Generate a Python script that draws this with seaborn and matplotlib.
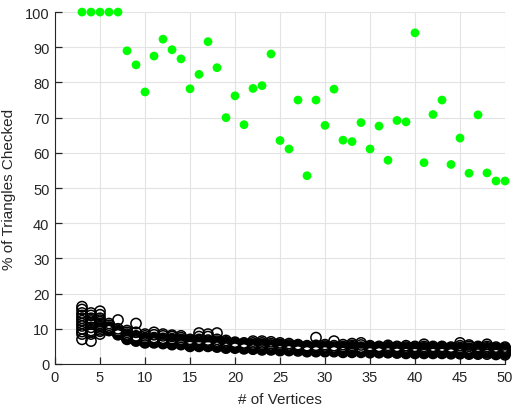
import numpy as np
import pandas as pd
import seaborn as sns
import matplotlib.pyplot as plt

# --- data ---
vertices = list(range(3, 51))

# green: percentage checked by the baseline (one value per vertex count)
baseline_pct = [100, 100, 100, 100, 100, 89.0, 85.0, 77.3, 87.5, 92.3,
                89.3, 86.7, 78.2, 82.3, 91.6, 84.2, 70.0, 76.2, 68.0, 78.3,
                79.1, 88.1, 63.5, 61.1, 75.0, 53.5, 75.0, 67.8, 78.1, 63.6,
                63.2, 68.6, 61.1, 67.6, 57.9, 69.2, 68.8, 94.1, 57.2, 70.9,
                75.0, 56.7, 64.2, 54.2, 70.8, 54.3, 52.0, 52.0]

# black: individual runs (hollow circles)
run_a = [16.3, 14.5, 15.0, 11.5, 12.5, 9.5, 11.5, 8.5, 9.0, 8.5, 8.2, 8.0, 7.0, 8.8, 8.5, 8.8,
         6.7, 6.2, 6.0, 6.5, 6.5, 6.3, 6.0, 5.8, 5.5, 5.2, 7.5, 5.5, 6.5, 5.5, 5.8, 6.0,
         5.2, 5.0, 5.3, 5.0, 5.2, 5.0, 5.6, 5.0, 5.0, 4.8, 6.0, 5.4, 5.0, 5.6, 4.8, 4.8]
run_b = [15.5, 13.8, 14.0, 11.0, 10.0, 9.0, 9.0, 8.0, 8.3, 8.0, 7.8, 7.5, 6.8, 7.8, 7.8, 7.0,
         6.3, 6.0, 5.7, 6.0, 6.0, 5.8, 5.6, 5.4, 5.2, 5.0, 5.3, 5.1, 5.2, 5.0, 5.3, 5.4,
         4.9, 4.8, 4.9, 4.8, 4.8, 4.8, 5.0, 4.7, 4.7, 4.5, 5.2, 5.0, 4.7, 5.0, 4.5, 4.5]
run_c = [14.5, 13.0, 13.0, 10.5, 9.5, 8.5, 8.0, 7.5, 7.5, 7.3, 7.2, 7.0, 6.5, 7.0, 6.8, 6.5,
         6.0, 5.7, 5.4, 5.6, 5.6, 5.4, 5.3, 5.1, 5.0, 4.8, 4.9, 4.8, 4.8, 4.7, 4.9, 4.8,
         4.6, 4.5, 4.6, 4.5, 4.5, 4.5, 4.6, 4.4, 4.4, 4.3, 4.7, 4.5, 4.4, 4.6, 4.3, 4.2]
run_d = [13.0, 12.2, 12.0, 10.0, 9.0, 8.0, 7.5, 7.0, 7.0, 6.8, 6.8, 6.6, 6.2, 6.5, 6.2, 6.0,
         5.7, 5.4, 5.2, 5.3, 5.2, 5.0, 5.0, 4.8, 4.7, 4.6, 4.6, 4.5, 4.5, 4.4, 4.5, 4.4,
         4.3, 4.2, 4.3, 4.2, 4.2, 4.1, 4.2, 4.1, 4.0, 4.0, 4.2, 4.1, 4.0, 4.1, 4.0, 3.9]
run_e = [11.5, 11.3, 11.0, 10.0, 8.8, 7.8, 7.2, 6.8, 6.7, 6.5, 6.4, 6.2, 6.0, 6.0, 5.8, 5.7,
         5.3, 5.1, 5.0, 5.0, 4.9, 4.8, 4.7, 4.5, 4.4, 4.3, 4.3, 4.2, 4.2, 4.1, 4.2, 4.1,
         4.0, 4.0, 4.0, 3.9, 3.9, 3.9, 3.9, 3.8, 3.8, 3.7, 3.9, 3.8, 3.7, 3.8, 3.7, 3.6]
run_f = [10.0, 9.5, 10.2, 9.8, 8.6, 7.5, 7.0, 6.5, 6.4, 6.2, 6.0, 6.0, 5.7, 5.6, 5.5, 5.4,
         5.0, 4.9, 4.8, 4.7, 4.6, 4.5, 4.4, 4.3, 4.2, 4.1, 4.0, 4.0, 3.9, 3.9, 3.9, 3.8,
         3.7, 3.7, 3.7, 3.6, 3.6, 3.6, 3.6, 3.5, 3.5, 3.4, 3.5, 3.5, 3.4, 3.5, 3.4, 3.3]
run_g = [8.5, 8.5, 9.3, 9.6, 8.5, 7.2, 6.8, 6.2, 6.2, 6.0, 5.7, 5.7, 5.3, 5.3, 5.2, 5.0,
         4.8, 4.7, 4.5, 4.4, 4.3, 4.2, 4.1, 4.0, 4.0, 3.8, 3.8, 3.7, 3.7, 3.6, 3.6, 3.6,
         3.5, 3.4, 3.4, 3.4, 3.3, 3.3, 3.3, 3.3, 3.2, 3.2, 3.2, 3.1, 3.1, 3.2, 3.0, 3.0]
run_h = [7.0, 6.5, 8.5, 9.5, 8.3, 7.0, 6.5, 6.0, 6.0, 5.8, 5.5, 5.5, 5.0, 5.0, 5.0, 4.8,
         4.5, 4.5, 4.3, 4.2, 4.0, 4.0, 3.8, 3.8, 3.7, 3.5, 3.5, 3.5, 3.5, 3.3, 3.3, 3.3,
         3.2, 3.2, 3.2, 3.1, 3.0, 3.0, 3.0, 3.0, 3.0, 2.9, 2.9, 2.8, 2.8, 2.8, 2.7, 2.6]
run_i = [13.8, 12.6, 12.5, 10.3, 9.2, 8.2, 7.8, 7.2, 7.2, 7.0, 7.0, 6.8, 6.3, 6.7, 6.5, 6.2,
         5.8, 5.6, 5.3, 5.4, 5.4, 5.2, 5.1, 5.0, 4.8, 4.7, 4.7, 4.6, 4.6, 4.5, 4.7, 4.6,
         4.4, 4.4, 4.4, 4.3, 4.3, 4.3, 4.4, 4.2, 4.2, 4.1, 4.4, 4.3, 4.2, 4.3, 4.1, 4.0]
run_j = [12.3, 11.7, 11.5, 10.0, 8.9, 7.9, 7.3, 6.9, 6.8, 6.6, 6.6, 6.4, 6.1, 6.2, 6.0, 5.8,
         5.5, 5.2, 5.1, 5.1, 5.0, 4.9, 4.8, 4.6, 4.5, 4.4, 4.4, 4.3, 4.3, 4.2, 4.3, 4.2,
         4.1, 4.1, 4.1, 4.0, 4.0, 4.0, 4.0, 3.9, 3.9, 3.8, 4.0, 3.9, 3.8, 3.9, 3.8, 3.7]
run_k = [10.8, 10.4, 10.6, 9.9, 8.7, 7.6, 7.1, 6.6, 6.5, 6.3, 6.2, 6.1, 5.8, 5.8, 5.6, 5.5,
         5.1, 5.0, 4.9, 4.8, 4.7, 4.6, 4.5, 4.4, 4.3, 4.2, 4.1, 4.1, 4.0, 4.0, 4.0, 3.9,
         3.8, 3.8, 3.8, 3.7, 3.7, 3.7, 3.7, 3.6, 3.6, 3.5, 3.7, 3.6, 3.5, 3.6, 3.5, 3.4]
run_l = [9.2, 9.0, 9.7, 9.7, 8.5, 7.3, 6.9, 6.3, 6.3, 6.1, 5.8, 5.8, 5.5, 5.4, 5.3, 5.2,
         4.9, 4.8, 4.6, 4.5, 4.4, 4.3, 4.2, 4.1, 4.1, 3.9, 3.9, 3.8, 3.8, 3.7, 3.7, 3.7,
         3.6, 3.5, 3.5, 3.5, 3.4, 3.4, 3.4, 3.4, 3.3, 3.3, 3.3, 3.2, 3.2, 3.3, 3.2, 3.1]

runs = pd.DataFrame({'vertices': vertices, 'a': run_a, 'b': run_b, 'c': run_c, 'd': run_d,
                     'e': run_e, 'f': run_f, 'g': run_g, 'h': run_h, 'i': run_i,
                     'j': run_j, 'k': run_k, 'l': run_l})
runs = runs.melt(id_vars='vertices', var_name='run', value_name='pct')

base = pd.DataFrame({'vertices': vertices, 'pct': baseline_pct})

# --- plot ---
sns.set_style('white', rc={'xtick.bottom': True, 'ytick.left': True,
                           'xtick.direction': 'in', 'ytick.direction': 'in',
                           'xtick.color': '#262626', 'ytick.color': '#262626'})
plt.rcParams['font.family'] = ['Liberation Sans', 'DejaVu Sans']

fig = plt.figure(figsize=(5.14, 4.14), dpi=100)
ax = fig.add_axes([0.107, 0.1184, 0.8755, 0.850])

sns.scatterplot(data=runs, x='vertices', y='pct', ax=ax, marker='o', s=54,
                facecolor='none', edgecolor='black', linewidth=1.1, clip_on=False, zorder=3)
sns.scatterplot(data=base, x='vertices', y='pct', ax=ax, color='#00ff00', s=40,
                edgecolor='none', clip_on=False, zorder=3)

ax.set_xlim(0, 50)
ax.set_ylim(0, 100)
ax.set_xticks(np.arange(0, 51, 5))
ax.set_yticks(np.arange(0, 101, 10))
ax.grid(True, color='#e3e3e3', linewidth=0.8, zorder=0)
for s in ['top', 'right']:
    ax.spines[s].set_visible(False)
for s in ['left', 'bottom']:
    ax.spines[s].set_color('#262626')
    ax.spines[s].set_linewidth(0.8)
ax.tick_params(axis='both', which='major', length=5, width=0.9, color='#262626',
               labelsize=10.5, pad=4)
ax.set_xlabel('# of Vertices', fontsize=11, color='#262626', labelpad=6)
ax.set_ylabel('% of Triangles Checked', fontsize=11, color='#262626', labelpad=6)

fig.savefig('out.png', dpi=100)
